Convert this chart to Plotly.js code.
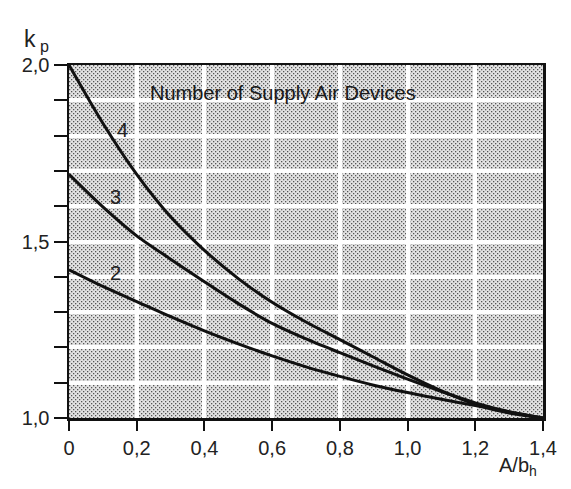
<!DOCTYPE html>
<html>
<head>
<meta charset="utf-8">
<script src="https://cdn.plot.ly/plotly-3.0.1.min.js"></script>
<style>html,body{margin:0;padding:0;background:#fff;}#chart{width:571px;height:489px;}</style>
</head>
<body>
<div id="chart"></div>
<script>
const ratio = [0, 0.1, 0.2, 0.3, 0.4, 0.5, 0.6, 0.7, 0.8, 0.9, 1.0, 1.1, 1.2, 1.3, 1.4];
const kp4 = [2.0, 1.835, 1.69, 1.57, 1.475, 1.395, 1.328, 1.272, 1.222, 1.172, 1.122, 1.077, 1.039, 1.014, 1.0];
const kp3 = [1.69, 1.598, 1.516, 1.45, 1.386, 1.324, 1.268, 1.224, 1.185, 1.147, 1.11, 1.075, 1.043, 1.018, 1.0];
const kp2 = [1.42, 1.373, 1.33, 1.287, 1.247, 1.21, 1.176, 1.145, 1.118, 1.093, 1.072, 1.053, 1.035, 1.017, 1.0];
const seriesNames = ["4", "3", "2"];
const labelPos = [[0.158, 1.817], [0.138, 1.625], [0.138, 1.412]];
const xTickVals = [0, 0.2, 0.4, 0.6, 0.8, 1.0, 1.2, 1.4];
const xTickText = ["0", "0,2", "0,4", "0,6", "0,8", "1,0", "1,2", "1,4"];
const yTickVals = [1.0, 1.1, 1.2, 1.3, 1.4, 1.5, 1.6, 1.7, 1.8, 1.9, 2.0];
const yTickText = ["1,0", "", "", "", "", "1,5", "", "", "", "", "2,0"];
const legendTitle = "Number of Supply Air Devices";

const font = "Liberation Sans, Arial, sans-serif";
const series = [kp4, kp3, kp2];
const traces = series.map((ys, i) => ({
  x: ratio, y: ys, type: "scatter", mode: "lines", name: seriesNames[i],
  line: {color: "#111", width: 3, shape: "spline", smoothing: 0.8},
  hoverinfo: "skip", showlegend: false
}));

const annotations = seriesNames.map((n, i) => ({
  x: labelPos[i][0], y: labelPos[i][1], xref: "x", yref: "y", text: n,
  xanchor: "center", yanchor: "middle",
  showarrow: false, font: {family: font, size: 20, color: "#222"}
}));
annotations.push({x: 0.632, y: 1.922, xref: "x", yref: "y", text: legendTitle,
  xanchor: "center", yanchor: "middle",
  showarrow: false, font: {family: font, size: 20, color: "#1a1a1a"}});
annotations.push({x: -0.068, y: 1.068, xref: "paper", yref: "paper", text: "k<sub> p</sub>",
  xanchor: "center", yanchor: "middle",
  showarrow: false, font: {family: font, size: 23, color: "#222"}});
annotations.push({x: 0.947, y: -0.138, xref: "paper", yref: "paper", text: "A/b<sub>h</sub>",
  xanchor: "center", yanchor: "middle",
  showarrow: false, font: {family: font, size: 20, color: "#222"}});

const svg = "<svg xmlns='http://www.w3.org/2000/svg' width='474' height='353'>" +
  "<defs><pattern id='p' width='4' height='4' patternUnits='userSpaceOnUse'>" +
  "<rect x='0' y='0' width='1.3' height='1.3' fill='#555'/>" +
  "<rect x='2' y='2' width='1.3' height='1.3' fill='#555'/></pattern></defs>" +
  "<rect width='474' height='353' fill='#e2e2e2'/>" +
  "<rect width='474' height='353' fill='url(#p)'/></svg>";

const layout = {
  width: 571, height: 489,
  margin: {l: 69, r: 28, t: 65, b: 71},
  paper_bgcolor: "#fff", plot_bgcolor: "#c8c8c8",
  font: {family: font, size: 20, color: "#222"},
  images: [{source: "data:image/svg+xml;charset=utf-8," + encodeURIComponent(svg),
    xref: "paper", yref: "paper", x: 0, y: 1, sizex: 1, sizey: 1,
    xanchor: "left", yanchor: "top", sizing: "stretch", layer: "below"}],
  xaxis: {range: [0, 1.4], tickvals: xTickVals, ticktext: xTickText,
    ticks: "outside", ticklen: 10, tickwidth: 2, tickcolor: "#111",
    showline: true, linecolor: "#111", linewidth: 2.5, mirror: true,
    showgrid: true, gridcolor: "#fff", gridwidth: 4, zeroline: false,
    tickfont: {family: font, size: 20, color: "#222"}},
  yaxis: {range: [1.0, 2.0], tickvals: yTickVals, ticktext: yTickText,
    ticks: "outside", ticklen: 13, tickwidth: 2, tickcolor: "#111",
    showline: true, linecolor: "#111", linewidth: 2.5, mirror: true,
    showgrid: true, gridcolor: "#fff", gridwidth: 4, zeroline: false,
    tickfont: {family: font, size: 20, color: "#222"}},
  annotations: annotations
};
Plotly.newPlot("chart", traces, layout, {displayModeBar: false, staticPlot: true});
</script>
</body>
</html>
